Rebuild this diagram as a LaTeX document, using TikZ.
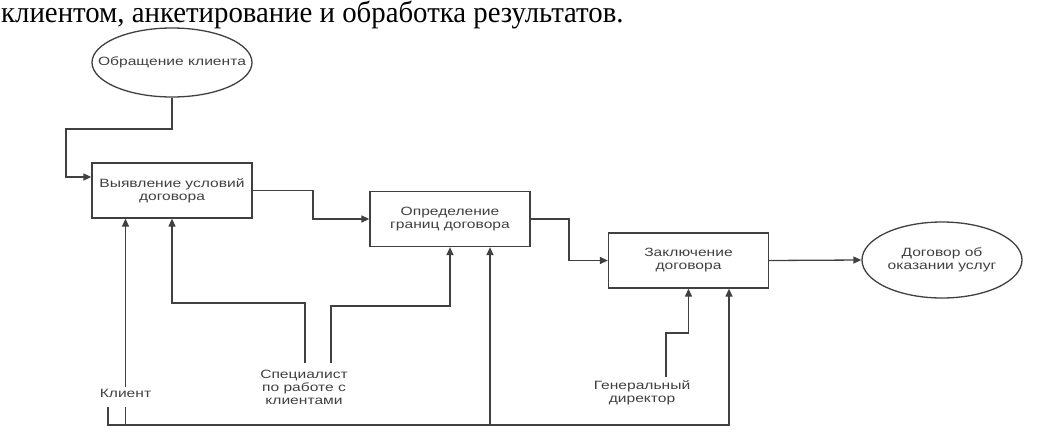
\documentclass[tikz,border=0pt]{standalone}
\usepackage{fontspec}
\setmainfont{Liberation Serif}
\newfontfamily\topfont[FakeStretch=0.96]{Liberation Serif}
\newfontfamily\diagfont[FakeStretch=1.3]{Liberation Sans}
\newcommand{\diagsize}{\diagfont\fontsize{12}{13}\selectfont}
\usetikzlibrary{shapes.geometric,arrows.meta}

\begin{document}
\begin{tikzpicture}[x=1pt,y=-1pt,
  box/.style={draw=black!75,line width=1.3pt,minimum width=160pt,minimum height=55pt,
    align=center,font=\diagsize,text=black!75},
  oval/.style={ellipse,draw=black!75,line width=1.3pt,minimum width=160pt,
    inner xsep=-25pt,inner ysep=0pt,align=center,font=\diagsize,text=black!75},
  lbl/.style={align=center,font=\diagsize,text=black!75,inner sep=2pt},
  line/.style={draw=black!75,line width=1.3pt},
  arr/.style={line,-{Triangle[length=8pt,width=7pt]}}]
  \useasboundingbox (0,0) rectangle (1041,434);
  \node[anchor=base west,inner sep=0pt,font=\topfont\fontsize{30}{34}\selectfont] (t) at (1,22)
    {клиентом, анкетирование и обработка результатов.};
  \node[oval,minimum height=69pt] (0) at (172,62.5) {Обращение клиента};
  \node[box] (1) at (172,190.5) {Выявление условий\\договора};
  \node[box] (2) at (450,219) {Определение\\границ договора};
  \node[box] (3) at (688.5,260.5) {Заключение\\договора};
  \node[oval,minimum height=76pt] (4) at (942,260) {Договор об\\оказании услуг};
  \node[lbl] (5) at (125.5,393) {Клиент};
  \node[lbl] (6) at (304,387) {Специалист\\по работе с\\клиентами};
  \node[lbl] (7) at (642,393) {Генеральный\\директор};
  % bends
  \coordinate (a) at (66,129);
  \coordinate (b) at (66,177);
  \coordinate (c) at (313,205);
  \coordinate (d) at (569,240);
  \coordinate (e) at (108,407);
  \coordinate (f) at (729,425);
  \coordinate (g) at (490,425);
  \coordinate (h) at (305,363);
  \coordinate (i) at (331,363);
  \coordinate (j) at (666,377);
  % flow
  \draw[arr] (0.south) |- (a) -- (b) -- (b -| 1.west);
  \draw[arr] (1.east) -| (c) |- (2.west);
  \draw[arr] (2.east) -| (d) |- (3.west);
  \draw[arr] (3.east) -- (4.west);
  % inputs from below
  \draw[arr] (5.north) -- (5.north |- 1.south);
  \draw[line] (5.south |- e) -- (5.south |- f);
  \draw[arr] (e) |- (f) -- (f |- 3.south);
  \draw[arr] (g) -- (g |- 2.south);
  \draw[arr] (h) -- ++(0,-60) -| (1.south);
  \draw[arr] (i) -- ++(0,-57) -| (2.south);
  \draw[arr] (j) -- ++(0,-44) -| (3.south);
\end{tikzpicture}
\end{document}
